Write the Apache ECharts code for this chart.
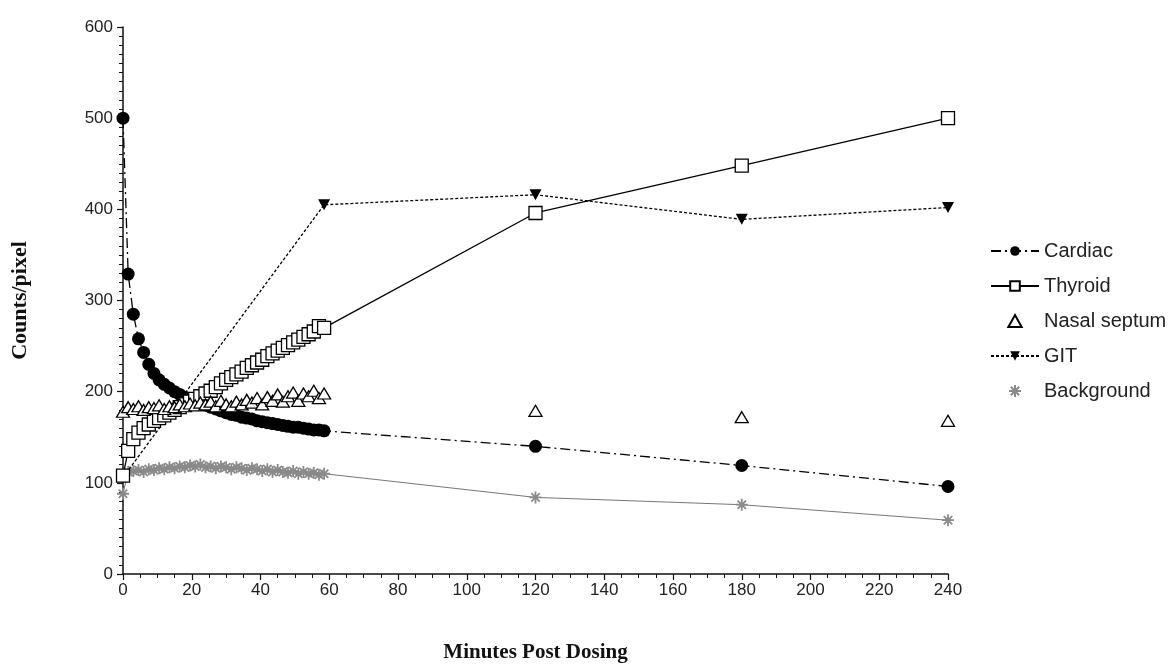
<!DOCTYPE html>
<html>
<head>
<meta charset="utf-8">
<script src="https://cdn.jsdelivr.net/npm/echarts@6/dist/echarts.min.js"></script>
<style>html,body{margin:0;padding:0;background:#fff;}#c{width:1174px;height:668px;}</style>
</head>
<body>
<div id="c"></div>
<script>
// ---- data ----
const earlyTimes = [0,1.5,3,4.5,6,7.5,9,10.5,12,13.5,15,16.5,18,19.5,21,22.5,24,25.5,27,28.5,30,31.5,33,34.5,36,37.5,39,40.5,42,43.5,45,46.5,48,49.5,51,52.5,54,55.5,57,58.5];
const lateTimes = [120,180,240];

const cardiacEarly = [500,329,285,258,243,230,220,213,208,204,200,197,194,191,189,187,185,183,181,179,177,175,174,172,171,170,168,167,166,165,164,163,162,161,161,160,159,158,158,157];
const cardiacLate = [140,119,96];

const thyroidEarly = [108,135,148,155,160,164,168,171,174,177,180,183,186,189,192,195,198,201,205,209,213,216,219,222,226,229,232,235,239,242,245,248,251,254,257,260,263,266,272,270];
const thyroidLate = [396,448,500];

const nasalEarly = [178,183,181,184,180,183,182,185,181,184,183,186,184,187,185,188,186,189,184,190,186,184,189,186,191,188,193,186,194,190,197,189,195,199,190,198,195,201,193,198];
const nasalLate = [179,172,168];

const gitTimes = [0,58.5,120,180,240];
const gitValues = [106,405,416,389,402];

const backgroundEarly = [88,112,113,114,112,115,114,116,115,117,116,118,117,119,118,120,117,118,116,118,117,115,117,116,114,116,115,113,115,112,114,112,111,113,110,112,110,111,109,110];
const backgroundLate = [84,76,59];

const seriesNames = ['Cardiac','Thyroid','Nasal septum','GIT','Background'];
const xTitle = 'Minutes Post Dosing';
const yTitle = 'Counts/pixel';

function pairs(ts, vs){ return ts.map((t,i)=>[t, vs[i]]); }
const allTimes = earlyTimes.concat(lateTimes);

const starPath = 'path://M5,0L5,10M0,5L10,5M1.5,1.5L8.5,8.5M8.5,1.5L1.5,8.5';
const triPath = 'path://M5,0L10,9L0,9Z';

const chart = echarts.init(document.getElementById('c'), null, {renderer:'canvas'});
const tickFont = {fontFamily:'Liberation Sans, Arial, sans-serif', fontSize:17, color:'#222'};

chart.setOption({
  animation:false,
  backgroundColor:'#fff',
  grid:{left:123, right:226, top:27, bottom:93, containLabel:false},
  xAxis:{
    type:'value', min:0, max:240, interval:20,
    name:xTitle, nameLocation:'middle', nameGap:68,
    nameTextStyle:{fontFamily:'Liberation Serif, Times New Roman, serif', fontWeight:'bold', fontSize:21, color:'#111'},
    axisLine:{lineStyle:{color:'#111', width:1.5}},
    axisTick:{show:true, length:6, lineStyle:{color:'#111', width:1.2}},
    minorTick:{show:true, splitNumber:4, length:4, lineStyle:{color:'#111', width:1}},
    splitLine:{show:false},
    axisLabel:Object.assign({margin:8}, tickFont)
  },
  yAxis:{
    type:'value', min:0, max:600, interval:100,
    name:yTitle, nameLocation:'middle', nameGap:92,
    nameTextStyle:{fontFamily:'Liberation Serif, Times New Roman, serif', fontWeight:'bold', fontSize:22, color:'#111'},
    axisLine:{show:true, lineStyle:{color:'#111', width:1.5}},
    axisTick:{show:true, length:6, lineStyle:{color:'#111', width:1.2}},
    minorTick:{show:true, splitNumber:10, length:4, lineStyle:{color:'#111', width:1}},
    splitLine:{show:false},
    axisLabel:Object.assign({margin:10}, tickFont)
  },
  legend:{
    orient:'vertical', left:985, top:236, itemGap:15, itemWidth:48, itemHeight:12,
    textStyle:{fontFamily:'Liberation Sans, Arial, sans-serif', fontSize:20, color:'#222'},
    data:[
      {name:'Cardiac'},
      {name:'Thyroid'},
      {name:'Nasal septum', icon:triPath},
      {name:'GIT'},
      {name:'Background', icon:starPath}
    ]
  },
  series:[
    {
      name:seriesNames[0], type:'line', data:pairs(allTimes, cardiacEarly.concat(cardiacLate)),
      symbol:'circle', symbolSize:13,
      itemStyle:{color:'#000', borderColor:'#000', borderWidth:0},
      lineStyle:{color:'#000', width:1.3, type:[10,4,2,4]},
      emphasis:{disabled:true}, z:2
    },
    {
      name:seriesNames[1], type:'line', data:pairs(allTimes, thyroidEarly.concat(thyroidLate)),
      symbol:'rect', symbolSize:13,
      itemStyle:{color:'#fff', borderColor:'#000', borderWidth:1.3},
      lineStyle:{color:'#000', width:1.3, type:'solid'},
      emphasis:{disabled:true}, z:4
    },
    {
      name:seriesNames[2], type:'scatter', data:pairs(allTimes, nasalEarly.concat(nasalLate)),
      symbol:'triangle', symbolSize:[13,11],
      itemStyle:{color:'#fff', borderColor:'#000', borderWidth:1.3, opacity:1},
      emphasis:{disabled:true}, z:5
    },
    {
      name:seriesNames[3], type:'line', data:pairs(gitTimes, gitValues),
      symbol:'triangle', symbolRotate:180, symbolSize:[12,11],
      itemStyle:{color:'#000', borderColor:'#000', borderWidth:0},
      lineStyle:{color:'#000', width:1.3, type:[3,2]},
      emphasis:{disabled:true}, z:3
    },
    {
      name:seriesNames[4], type:'line', data:pairs(allTimes, backgroundEarly.concat(backgroundLate)),
      symbol:starPath, symbolSize:12, symbolKeepAspect:true,
      itemStyle:{color:'none', borderColor:'#8a8a8a', borderWidth:1.8},
      lineStyle:{color:'#777', width:1},
      emphasis:{disabled:true}, z:1
    }
  ]
});
</script>
</body>
</html>
